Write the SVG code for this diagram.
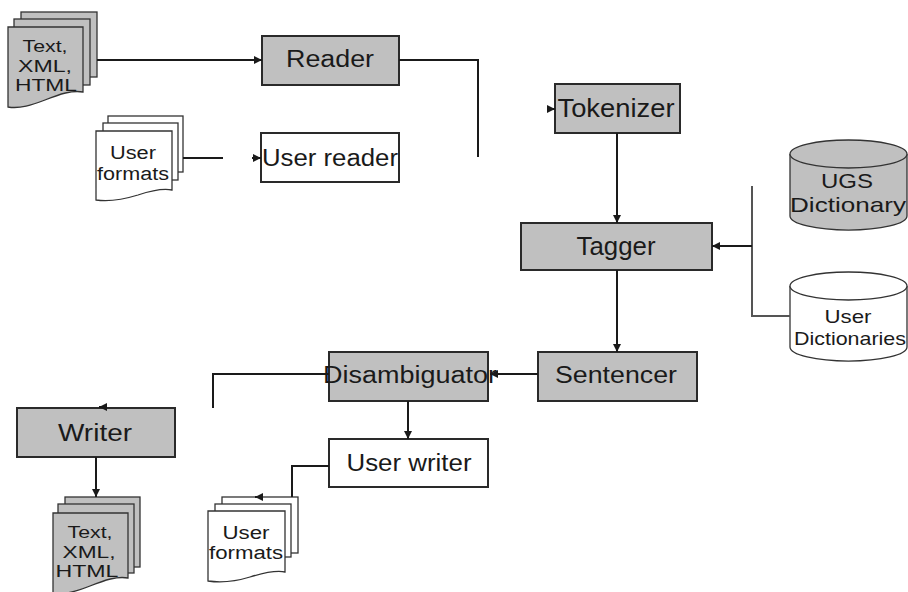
<svg xmlns="http://www.w3.org/2000/svg" width="908" height="592" viewBox="0 0 908 592">
<style>
.bg{fill:#ffffff}
.box{stroke:#2a2a2a;stroke-width:2}
.g{fill:#c0c0c0}
.w{fill:#ffffff}
.pg{stroke:#333;stroke-width:1.3}
.t{font-family:"Liberation Sans",Arial,sans-serif;fill:#1a1a1a;text-anchor:middle}
.c{fill:none;stroke:#1a1a1a;stroke-width:2}
.bus{fill:none;stroke:#555;stroke-width:2}
</style>
<defs>
<marker id="ah" markerUnits="userSpaceOnUse" markerWidth="9" markerHeight="8" refX="8" refY="4" orient="auto">
<path d="M0,0 L8,4 L0,8 Z" fill="#1a1a1a"/>
</marker>
</defs>
<rect class="bg" x="0" y="0" width="908" height="592"/>

<g id="doc-in">
<rect class="g pg" x="21" y="12" width="76" height="65"/>
<rect class="g pg" x="14" y="19" width="76" height="66"/>
<path class="g pg" d="M8,27 H83 V92 C72,90 60,94 45,100 C32,105 20,109 8,107 Z"/>
<text class="t" x="45" y="52" font-size="17" textLength="45" lengthAdjust="spacingAndGlyphs">Text,</text>
<text class="t" x="45" y="72" font-size="17" textLength="54" lengthAdjust="spacingAndGlyphs">XML,</text>
<text class="t" x="46" y="91" font-size="17" textLength="62" lengthAdjust="spacingAndGlyphs">HTML</text>
</g>

<g id="userformats-in">
<rect class="w pg" x="108" y="116" width="75" height="56"/>
<rect class="w pg" x="103" y="123" width="75" height="57"/>
<path class="w pg" d="M96,131 H172 V190 C162,188 150,191 138,195 C125,199 110,202 96,200 Z"/>
<text class="t" x="133" y="159" font-size="18" textLength="46" lengthAdjust="spacingAndGlyphs">User</text>
<text class="t" x="133" y="180" font-size="18" textLength="72" lengthAdjust="spacingAndGlyphs">formats</text>
</g>

<g id="reader">
<rect class="box g" x="262" y="36" width="137" height="49"/>
<text class="t" x="330" y="67" font-size="23" textLength="88" lengthAdjust="spacingAndGlyphs">Reader</text>
</g>

<g id="userreader">
<rect class="box w" x="261" y="133" width="138" height="49"/>
<text class="t" x="330" y="166" font-size="23" textLength="136" lengthAdjust="spacingAndGlyphs">User reader</text>
</g>

<g id="tokenizer">
<rect class="box g" x="555" y="84" width="125" height="49"/>
<text class="t" x="616" y="117" font-size="25" textLength="117" lengthAdjust="spacingAndGlyphs">Tokenizer</text>
</g>

<g id="tagger">
<rect class="box g" x="521" y="223" width="191" height="47"/>
<text class="t" x="616" y="255" font-size="25" textLength="79" lengthAdjust="spacingAndGlyphs">Tagger</text>
</g>

<g id="ugs">
<path class="g pg" d="M790,154 V216 A58,14 0 0 0 907,216 V154"/>
<ellipse class="g pg" cx="848.5" cy="154" rx="58.5" ry="14"/>
<text class="t" x="847" y="188" font-size="21" textLength="52" lengthAdjust="spacingAndGlyphs">UGS</text>
<text class="t" x="848" y="212" font-size="21" textLength="116" lengthAdjust="spacingAndGlyphs">Dictionary</text>
</g>

<g id="userdict">
<path class="w pg" d="M790,286 V347 A58,14 0 0 0 907,347 V286"/>
<ellipse class="w pg" cx="848.5" cy="286" rx="58.5" ry="14"/>
<text class="t" x="848" y="323" font-size="19" textLength="47" lengthAdjust="spacingAndGlyphs">User</text>
<text class="t" x="850" y="345" font-size="19" textLength="112" lengthAdjust="spacingAndGlyphs">Dictionaries</text>
</g>

<g id="sentencer">
<rect class="box g" x="538" y="352" width="159" height="49"/>
<text class="t" x="616" y="383" font-size="23" textLength="122" lengthAdjust="spacingAndGlyphs">Sentencer</text>
</g>

<g id="disambiguator">
<rect class="box g" x="329" y="352" width="159" height="49"/>
<text class="t" x="410" y="383" font-size="23" textLength="174" lengthAdjust="spacingAndGlyphs">Disambiguator</text>
</g>

<g id="userwriter">
<rect class="box w" x="329" y="439" width="159" height="48"/>
<text class="t" x="409" y="471" font-size="23" textLength="125" lengthAdjust="spacingAndGlyphs">User writer</text>
</g>

<g id="writer">
<rect class="box g" x="17" y="408" width="158" height="49"/>
<text class="t" x="95" y="441" font-size="23" textLength="74" lengthAdjust="spacingAndGlyphs">Writer</text>
</g>

<g id="doc-out">
<rect class="g pg" x="65" y="497" width="75" height="70"/>
<rect class="g pg" x="58" y="504" width="76" height="69"/>
<path class="g pg" d="M53,513 H128 V578 C117,576 105,580 90,586 C77,591 65,595 53,593 Z"/>
<text class="t" x="90" y="538" font-size="17" textLength="45" lengthAdjust="spacingAndGlyphs">Text,</text>
<text class="t" x="89" y="558" font-size="17" textLength="53" lengthAdjust="spacingAndGlyphs">XML,</text>
<text class="t" x="87" y="577" font-size="17" textLength="63" lengthAdjust="spacingAndGlyphs">HTML</text>
</g>

<g id="userformats-out">
<rect class="w pg" x="222" y="497" width="76" height="56"/>
<rect class="w pg" x="215" y="504" width="76" height="53"/>
<path class="w pg" d="M208,511 H285 V572 C275,570 263,573 250,577 C237,581 222,583 208,581 Z"/>
<text class="t" x="246" y="539" font-size="18" textLength="47" lengthAdjust="spacingAndGlyphs">User</text>
<text class="t" x="246" y="559" font-size="18" textLength="74" lengthAdjust="spacingAndGlyphs">formats</text>
</g>

<g id="connectors">
<path class="c" d="M97,60 H262" marker-end="url(#ah)"/>
<path class="c" d="M399,60 H478 V157"/>
<path class="c" d="M183,158 H223"/>
<path class="c" d="M252,158 H261" marker-end="url(#ah)"/>
<path class="c" d="M547,109 H555" marker-end="url(#ah)"/>
<path class="c" d="M617,133 V223" marker-end="url(#ah)"/>
<path class="c" d="M617,270 V352" marker-end="url(#ah)"/>
<path class="bus" d="M752,186 V316 H790"/>
<path class="c" d="M752,246 H712" marker-end="url(#ah)"/>
<path class="c" d="M538,374 H490" marker-end="url(#ah)"/>
<path class="c" d="M329,374 H213 V408"/>
<path class="c" d="M408,401 V439" marker-end="url(#ah)"/>
<path class="c" d="M329,466 H292 V497"/>
<path class="c" d="M107,407 H99" marker-end="url(#ah)"/>
<path class="c" d="M96,457 V497" marker-end="url(#ah)"/>
<path class="c" d="M263,497 H255" marker-end="url(#ah)"/>
</g>
</svg>
